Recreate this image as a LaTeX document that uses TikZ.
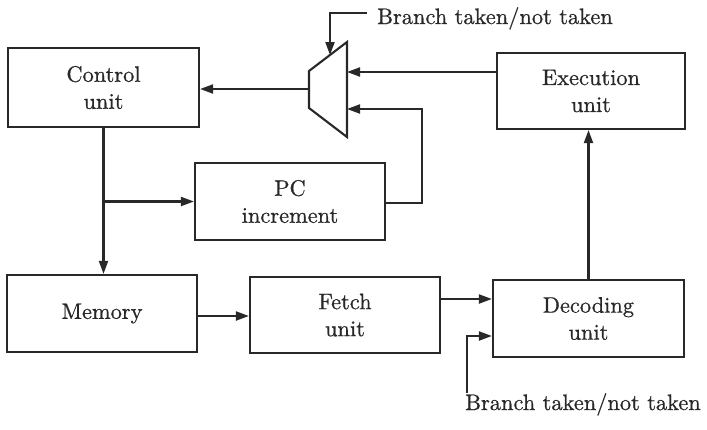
\documentclass[tikz,border=0pt]{standalone}
\usepackage{fontspec}
\setmainfont{lmroman10-regular.otf}[FakeBold=0.7]
\usetikzlibrary{arrows.meta}
\definecolor{ink}{RGB}{40,40,40}
\tikzset{
  blk/.style={draw=ink, line width=2.2pt, rectangle, inner sep=0pt, align=center,
    text=ink, font=\fontsize{22.4}{27}\selectfont},
  conn/.style={draw=ink, line width=2.1pt},
  arr/.style={conn, -{Triangle[length=13pt,width=9pt]}},
  lbl/.style={text=ink, font=\fontsize{22.4}{27}\selectfont, inner sep=0pt}
}
\begin{document}
\begin{tikzpicture}[x=1pt,y=-1pt]
\useasboundingbox[fill=white] (0,0) rectangle (707,429);
% boxes
\node[blk, minimum width=191pt, minimum height=79pt] (ctrl) at (103.5,87.5) {Control\\unit};
\node[blk, minimum width=188pt, minimum height=76pt] (exec) at (591,91) {Execution\\unit};
\node[blk, minimum width=190pt, minimum height=77pt] (pc) at (290,201.5) {PC\\increment};
\node[blk, minimum width=190pt, minimum height=77pt] (mem) at (102,313.5) {Memory};
\node[blk, minimum width=190pt, minimum height=76pt] (fetch) at (345,315) {Fetch\\unit};
\node[blk, minimum width=191pt, minimum height=77pt] (dec) at (588.5,318.5) {Decoding\\unit};
% multiplexer
\coordinate (mA) at (309,71);
\coordinate (mB) at (347,42);
\coordinate (mC) at (347,137);
\coordinate (mD) at (309,108);
\draw[conn, line join=miter] (mA) -- (mB) -- (mC) -- (mD) -- cycle;
\coordinate (muxout) at (309,89);
\coordinate (muxin1) at (347,72);
\coordinate (muxin2) at (347,109);
\coordinate (muxtop) at (330,55);
% labels
\node[lbl, anchor=base west] (lbltop) at (377,24) {Branch taken/not taken};
\node[lbl, anchor=base west] (lblbot) at (465,410) {Branch taken/not taken};
\coordinate (b1) at (367,13);
\coordinate (b2) at (467,393);
% connectors
\draw[arr] (muxout) -- (muxout -| ctrl.east);
\draw[arr] (muxin1 -| exec.west) -- (muxin1);
\draw[arr] ([yshift=-1.5pt]pc.east) -| (422,109) -- (muxin2);
\draw[arr] (ctrl.south) -- (ctrl.south |- mem.north);
\draw[arr] (ctrl.south |- pc.west) -- (pc.west);
\draw[arr] ([yshift=-2.5pt]mem.east) -- ([yshift=-2.5pt]mem.east -| fetch.west);
\draw[arr] ([yshift=16pt]fetch.east) -- ([yshift=16pt]fetch.east -| dec.west);
\draw[arr] (b2) |- ([yshift=-17.5pt]dec.west);
\draw[arr] (dec.north) -- (dec.north |- exec.south);
\draw[arr] (b1) -| (muxtop);
\end{tikzpicture}
\end{document}
